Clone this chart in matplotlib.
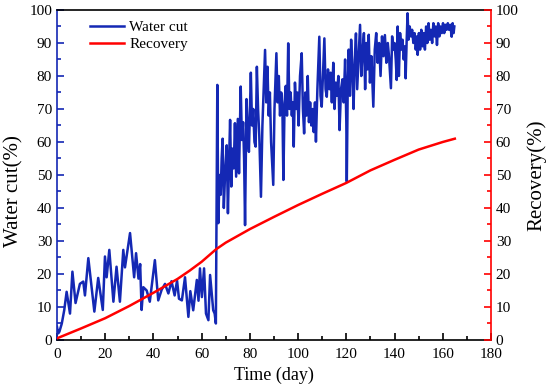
import matplotlib
matplotlib.use("Agg")
import matplotlib.pyplot as plt
from matplotlib.ticker import MultipleLocator

plt.rcParams['font.family'] = ['Liberation Serif', 'DejaVu Serif']

# water cut (%)
wc_days = [0, 0.5, 1, 2, 3, 4, 5.4, 6.4, 7.7, 9.5, 10.9, 11.6, 13, 15.5, 17.1, 19,
           19.9, 20.6, 21.7, 23.4, 24.7, 26.1, 27.5, 28.2, 30.3, 32, 32.8, 33.8,
           34.5, 35.1, 35.8, 37.2, 38.5, 40.6, 42, 43.4, 44.8, 46.2, 47.5, 48.8,
           49.8, 50.6, 51.8, 53.1, 54.5, 55.3, 56.5, 58, 58.7, 59.3, 60.1, 61,
           61.8, 62.8, 63.5, 64.8, 65.4, 65.9,
           66.5, 66.9, 67.4, 67.9, 68.3, 68.7, 69.2, 69.7, 70.4, 70.9, 71.4, 71.8,
           72.3, 72.8, 73.3, 73.8, 74.3, 75.0, 75.5, 76.2, 76.7, 77.2, 77.6, 78.0,
           78.6, 79.2, 79.6, 80.4, 80.9, 81.4, 81.9, 82.4, 82.9, 83.4, 83.9, 84.6,
           85.2, 85.7, 86.3, 86.8, 87.3, 87.8, 88.3, 88.8, 89.7, 90.2, 91.0, 91.5,
           92.0, 92.5, 93.0, 93.5, 93.9, 94.4, 94.9, 95.4, 95.9, 96.4, 96.9, 97.4,
           97.8, 98.2, 98.7, 99.2, 99.7, 100.2, 100.8, 101.5, 102.0, 102.5, 103.0,
           103.5, 104.0, 104.5, 105.0, 105.5, 106.0, 106.5, 107.0, 107.4, 108.0,
           108.8, 109.3, 109.8, 110.3, 110.9, 111.4, 111.9, 112.4, 113.0, 113.5,
           114.0, 114.6, 115.1, 115.6, 116.1, 116.7, 117.2, 117.8, 118.4, 118.9,
           119.5, 120.0, 120.2, 120.6, 121.0, 121.5, 122.0, 122.6, 123.0, 123.5,
           124.0, 124.5, 125.0, 125.7, 126.2, 126.8, 127.3, 127.8, 128.3, 128.8,
           129.3, 129.8, 130.4, 131.2, 131.8, 132.4, 133.0, 133.6, 134.2, 134.8,
           135.4, 136.0, 136.6, 137.2, 137.7, 138.1, 138.5, 139.0, 139.5, 140.0,
           140.5, 140.9, 141.3, 141.8, 142.3, 142.8, 143.3, 143.8, 144.3, 144.6,
           145.0, 145.4, 145.8, 146.3, 146.8, 147.3, 147.8, 148.3, 148.8, 149.3,
           149.6, 150.1, 150.6, 151.1, 151.6, 152.1, 152.6, 153.1, 153.6, 154.1,
           154.6, 155.1, 155.6, 156.1, 156.6, 157.1, 157.6, 158.1, 158.6, 159.1,
           159.6, 160.1, 160.6, 161.1, 161.6, 162.1, 162.6, 163.1, 163.7, 164.1,
           164.5, 164.8]
water_cut = [4, 2, 2.5, 5, 9, 14.6, 8, 20.7, 11.2, 17, 17.7, 13.5, 24.8, 8.6, 18.8, 9.1,
             25.3, 19, 27.3, 11.6, 22.2, 11.6, 27.3, 22, 32.4, 19, 26.3, 18.6,
             23, 9.1, 16, 15, 11.6, 24.2, 12, 15.2, 17, 14.1, 17.8, 13.5,
             18, 12.5, 12, 19, 7, 14.8, 9, 18.2, 11.9, 21.7, 13, 21.7,
             8, 6, 19.7, 9, 8, 5,
             77.3, 35.4, 50, 44, 55, 61, 40, 50, 59, 38.4, 55, 66.7,
             46.5, 58, 52, 65.7, 49.5, 67, 50.5, 76.8, 60.6, 66, 55, 34.8,
             73, 62, 57, 81, 65, 70, 60, 58.6, 82.8, 70, 62, 43.4,
             65, 75, 87.9, 72, 82.8, 68, 75, 60, 47, 70, 86.9, 72,
             80, 68, 75, 70, 48.5, 72, 77, 68, 89.9, 70, 75, 68,
             72, 58.6, 78, 70, 75, 65, 80, 86.9, 70, 62.6, 75,
             68, 80, 66, 72, 65, 70, 63, 72, 60.1, 76,
             91.9, 74, 70.7, 80, 91.4, 76, 73.7, 82, 76, 81,
             72, 84, 70, 78, 74, 80, 63.6, 76, 79, 72,
             85, 66, 48, 78, 88, 74, 91, 80, 70, 85,
             92.9, 76, 84, 95.5, 80, 88, 93, 76, 90, 82,
             92.5, 78, 86, 70.7, 88, 93, 84, 90, 80, 92,
             86, 92.4, 84, 90, 86, 81.3, 76.3, 92, 88, 90,
             85, 78.8, 95, 80, 93, 88, 91, 85, 89, 79.3,
             90, 99, 91, 95, 92, 94, 90, 93, 88, 92,
             86.4, 93, 88, 94, 89, 93, 88, 95, 90, 96,
             91, 94, 90, 96, 92, 95, 89.4, 96, 92, 95,
             93, 96, 93, 95.5, 94, 96, 94, 95.5, 91.9, 96,
             93, 95]

# recovery (%)
rec_days = [0, 10, 20, 30, 40, 50, 55, 60, 66, 70, 80, 90, 100, 110, 120,
            130, 140, 150, 160, 165]
recovery = [0.5, 3.5, 6.6, 10.3, 14.3, 18.5, 21.0, 23.7, 27.5, 29.5, 33.6, 37.3,
            40.9, 44.3, 47.6, 51.4, 54.6, 57.7, 60.0, 61.0]

blue = '#1428b4'
red = '#ff0000'

fig, ax = plt.subplots(figsize=(5.5, 3.92), dpi=100)
fig.subplots_adjust(left=0.1036, right=0.8927, bottom=0.1327, top=0.9745)
ax2 = ax.twinx()

l1, = ax.plot(wc_days, water_cut, color=blue, lw=1.8, label='Water cut')
l2, = ax2.plot(rec_days, recovery, color=red, lw=1.8, label='Recovery')

for a in (ax, ax2):
    a.set_xlim(0, 180)
    a.set_ylim(0, 100)
    a.yaxis.set_major_locator(MultipleLocator(10))
    a.yaxis.set_minor_locator(MultipleLocator(5))
ax.xaxis.set_major_locator(MultipleLocator(20))
ax.xaxis.set_minor_locator(MultipleLocator(10))

ax.tick_params(which='both', direction='in', labelsize=11, top=False)
ax.tick_params(which='major', length=5, width=1.2)
ax.tick_params(which='minor', length=3, width=1.2)
ax.tick_params(axis='x', which='both', pad=6)
ax.tick_params(axis='y', which='both', colors=blue, labelcolor='black')
ax2.tick_params(which='both', direction='in', labelsize=11)
ax2.tick_params(which='major', length=5, width=1.2)
ax2.tick_params(which='minor', length=3, width=1.2)
ax2.tick_params(axis='y', which='both', colors=red, labelcolor='black')

ax.spines['left'].set_color(blue)
ax2.spines['left'].set_visible(False)
ax2.spines['right'].set_color(red)
ax.spines['right'].set_visible(False)
for s in ('top', 'bottom'):
    ax.spines[s].set_linewidth(1.2)
    ax2.spines[s].set_visible(False)
ax.spines['left'].set_linewidth(1.2)
ax2.spines['right'].set_linewidth(1.2)

ax.set_xlabel('Time (day)', fontsize=13, labelpad=4)
ax.set_ylabel('Water cut(%)', fontsize=15)
ax.yaxis.set_label_coords(-0.077, 0.45)
ax2.set_ylabel('Recovery(%)', fontsize=15, labelpad=6)

ax.legend(handles=[l1, l2], loc='upper left', frameon=False, fontsize=11,
          handlelength=2.2, handletextpad=0.35, bbox_to_anchor=(0.045, 1.01),
          labelspacing=0.2)

fig.savefig('out.png', dpi=100)
